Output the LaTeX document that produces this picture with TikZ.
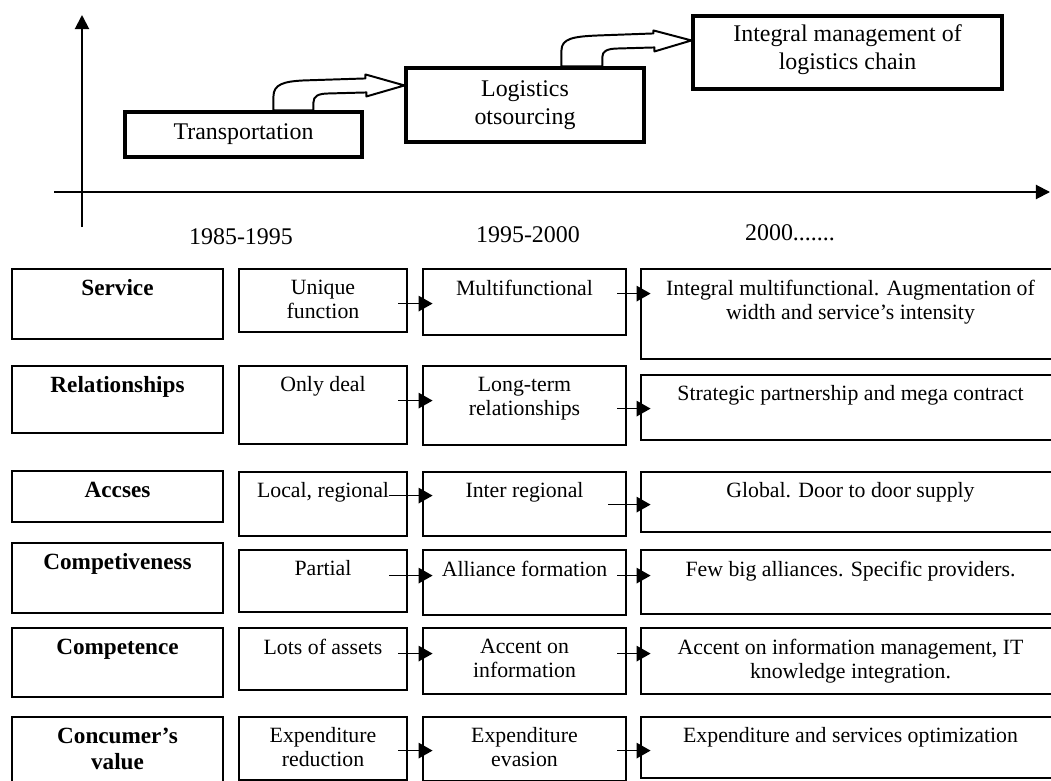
\documentclass[tikz,border=0pt]{standalone}
\usepackage{fontspec}
\setmainfont{Liberation Serif}
\usetikzlibrary{arrows.meta,positioning,calc,fit}

\tikzset{
  stage/.style={draw, line width=2.2pt, inner sep=0pt},
  stagetxt/.style={inner sep=0pt, align=center, font=\fontsize{17}{20}\selectfont},
  cell/.style={draw, line width=2pt, inner sep=0pt},
  celltxt/.style={anchor=north, yshift=-8.5pt, inner sep=0pt, align=center, font=\fontsize{15.5}{17}\selectfont},
  headtxt/.style={celltxt, font=\fontsize{16.5}{18.5}\selectfont\bfseries},
  axis/.style={line width=1.4pt, -{Triangle[length=10pt,width=10pt]}},
  flow/.style={line width=1.2pt, -{Triangle[length=10pt,width=11pt]}},
  hollow/.style={draw, fill=white, line width=1.4pt, line join=round},
  year/.style={font=\fontsize{17}{20}\selectfont}
}

% one framed cell of the table, text at its top
\newcommand{\tabcell}[7][celltxt]{%
  \node[cell, fit={(#3,#4) (#5,#6)}, label={[#1]north:{#7}}] (#2) {};}

\begin{document}
\begin{tikzpicture}[x=0.025cm, y=-0.025cm]
  \useasboundingbox (0,0) rectangle (1051,781);
  \clip (0,0) rectangle (1051,781);

  % axes
  \coordinate (xs) at (54,192);
  \coordinate (xe) at (1050,192);
  \coordinate (ys) at (82,227);
  \coordinate (ye) at (82,15);
  \draw[axis] (xs) -- (xe);
  \draw[axis] (ys) -- (ye);

  % stages
  \node[stage, fit={(125,112) (362,157)}, label={[stagetxt]center:Transportation}] (trans) {};
  \node[stage, fit={(406,68) (644,142)}, label={[stagetxt]center:{Logistics\\otsourcing}}] (logi) {};
  \node[stage, fit={(693,16) (1002,89)}, label={[stagetxt,yshift=2pt]center:{Integral management of\\logistics chain}}] (integ) {};

  \coordinate (tip1) at ($(logi.north west)+(0,19)$);
  \coordinate (tip2) at ($(integ.north west)+(0,26)$);
  \draw[hollow] ($(trans.north west)+(150,0)$) -- ++(0,-14)
    .. controls +(0,-12) and +(-20,1) .. ++(30,-16) -- ++(62,-2) -- ++(0,-4)
    -- (tip1) -- ++(-38,11) -- ++(0,-4) -- ++(-37,1)
    .. controls +(-12,0) and +(0,-6) .. ++(-16,9) -- ++(0,8) -- cycle;
  \draw[hollow] ($(logi.north west)+(157,0)$) -- ++(0,-16)
    .. controls +(0,-12) and +(-25,1) .. ++(37,-15) -- ++(55,-2) -- ++(0,-3)
    -- (tip2) -- ++(-37,11) -- ++(0,-4) -- ++(-35,1)
    .. controls +(-13,0) and +(0,-5) .. ++(-17,8) -- ++(0,10) -- cycle;

  % periods
  \node[year] (y1) at (241,237) {1985-1995};
  \node[year] (y2) at (528,235) {1995-2000};
  \node[year] (y3) at (790,233) {2000.......};

  % table
  \tabcell[headtxt]{h1}{12}{269}{223}{339}{Service}
  \tabcell{a1}{239}{269}{407}{332}{Unique\\function}
  \tabcell{b1}{423}{269}{626}{335}{Multifunctional}
  \tabcell{c1}{641}{269}{1060}{359}{Integral multifunctional. Augmentation of\\width and service's intensity}

  \tabcell[headtxt]{h2}{12}{366}{223}{433}{Relationships}
  \tabcell{a2}{239}{366}{407}{444}{Only deal}
  \tabcell{b2}{423}{366}{626}{445}{Long-term\\relationships}
  \tabcell{c2}{641}{375}{1060}{440}{Strategic partnership and mega contract}

  \tabcell[headtxt]{h3}{12}{471}{223}{522}{Accses}
  \tabcell{a3}{239}{472}{407}{536}{Local, regional}
  \tabcell{b3}{423}{472}{626}{536}{Inter regional}
  \tabcell{c3}{641}{472}{1060}{532}{Global. Door to door supply}

  \tabcell[headtxt]{h4}{12}{543}{223}{613}{Competiveness}
  \tabcell{a4}{239}{550}{407}{612}{Partial}
  \tabcell{b4}{423}{550}{626}{615}{Alliance formation}
  \tabcell{c4}{641}{550}{1060}{614}{Few big alliances. Specific providers.}

  \tabcell[headtxt]{h5}{12}{628}{223}{697}{Competence}
  \tabcell{a5}{239}{628}{407}{690}{Lots of assets}
  \tabcell{b5}{423}{628}{626}{694}{Accent on\\information}
  \tabcell{c5}{641}{628}{1060}{694}{Accent on information management, IT\\knowledge integration.}

  \tabcell[headtxt]{h6}{12}{717}{223}{795}{Concumer's\\value}
  \tabcell{a6}{239}{717}{407}{780}{Expenditure\\reduction}
  \tabcell{b6}{423}{717}{626}{781}{Expenditure\\evasion}
  \tabcell{c6}{641}{717}{1060}{778}{Expenditure and services optimization}

  % arrows between cells
  \foreach \p/\q/\dy/\dx in {a1/b1/36/10, a2/b2/36/10, a3/b3/25/19, a4/b4/27/19, a5/b5/27/10, a6/b6/35/10,
                             b1/c1/26/10, b2/c2/44/10, b3/c3/34/19, b4/c4/27/10, b5/c5/27/10, b6/c6/35/10} {
    \path ($(\p.north east)+(-\dx,\dy)$) coordinate (s) ($(\q.west)+(11,0)$) coordinate (t);
    \draw[flow] (s) -- (s -| t);
  }
\end{tikzpicture}
\end{document}
